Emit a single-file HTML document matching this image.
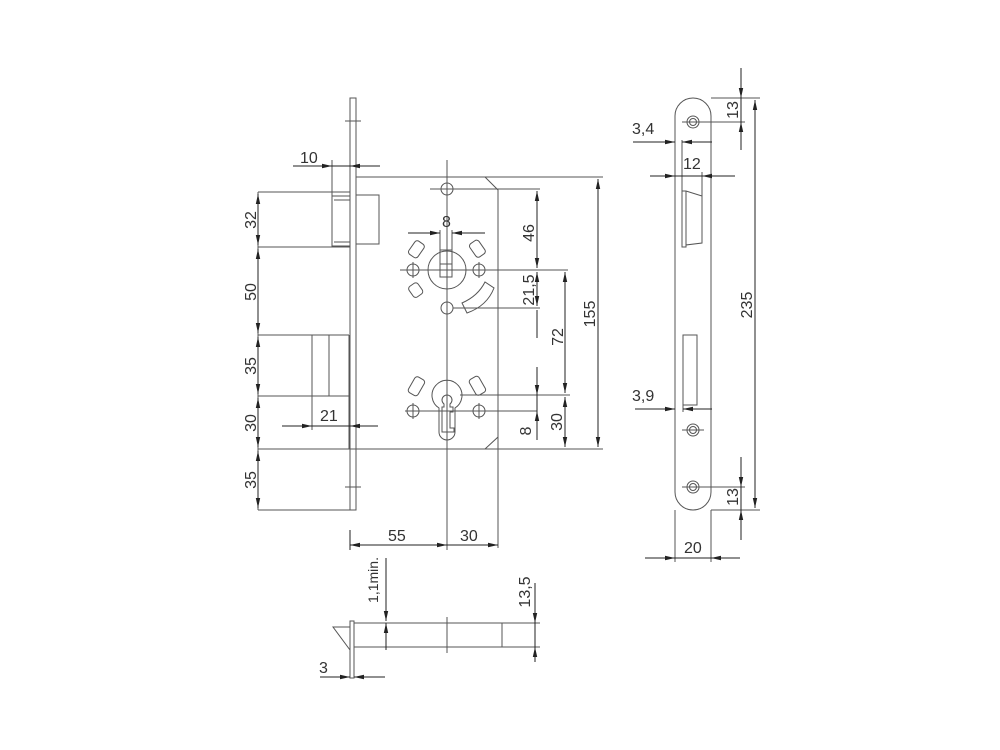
<!DOCTYPE html>
<html><head><meta charset="utf-8"><style>
html,body{margin:0;padding:0;background:#fff;}
svg{display:block;}
text{font-family:"Liberation Sans",sans-serif;font-size:16px;fill:#333;}
</style></head><body>
<svg width="1000" height="750" viewBox="0 0 1000 750" xmlns="http://www.w3.org/2000/svg">
<defs>
<marker id="a" viewBox="0 0 10 6" refX="10" refY="3" markerWidth="10" markerHeight="6" markerUnits="userSpaceOnUse" orient="auto-start-reverse"><path d="M0,0.8 L10,3 L0,5.2 z" fill="#222"/></marker>
</defs>
<g stroke="#555" stroke-width="1" fill="none">
<rect x="350" y="98" width="6" height="412"/>
<line x1="345" y1="121" x2="361" y2="121"/><line x1="345" y1="487" x2="361" y2="487"/>
<path d="M356,177 H485 L498,190 V437 L485,449"/>
<line x1="498" y1="437" x2="498" y2="548"/>
<line x1="356" y1="177" x2="603" y2="177"/>
<line x1="258" y1="449" x2="603" y2="449"/>
<line x1="447" y1="160" x2="447" y2="550"/>
<rect x="332" y="196" width="18" height="50"/>
<line x1="334" y1="200" x2="350" y2="200"/><line x1="334" y1="242" x2="350" y2="242"/>
<rect x="356" y="195" width="23" height="49"/>
<line x1="258" y1="192" x2="350" y2="192"/>
<line x1="258" y1="247" x2="350" y2="247"/>
<line x1="332" y1="160" x2="332" y2="196"/>
<line x1="258" y1="335" x2="349" y2="335"/>
<line x1="349" y1="335" x2="349" y2="449"/>
<line x1="312" y1="335" x2="312" y2="430"/>
<line x1="329" y1="335" x2="329" y2="396"/>
<line x1="258" y1="396" x2="350" y2="396"/>
<line x1="258" y1="510" x2="355" y2="510"/>
<line x1="258" y1="192" x2="258" y2="510"/>
<circle cx="447" cy="270" r="19"/>
<rect x="440" y="250" width="12" height="27"/>
<line x1="440" y1="264" x2="452" y2="264"/>
<line x1="440" y1="230" x2="440" y2="250"/><line x1="452" y1="230" x2="452" y2="250"/>
<circle cx="447" cy="189" r="6"/><circle cx="447" cy="308" r="6"/>
<circle cx="413" cy="270" r="6"/><circle cx="479" cy="270" r="6"/>
<line x1="400" y1="270" x2="568" y2="270"/>
<line x1="430" y1="189" x2="540" y2="189"/>
<line x1="453" y1="308" x2="540" y2="308"/>
<rect x="411" y="241" width="11" height="16" rx="3" transform="rotate(35 416 249)"/>
<rect x="472" y="241" width="11" height="16" rx="3" transform="rotate(-35 477 249)"/>
<rect x="410" y="284" width="11" height="13" rx="3" transform="rotate(-35 415 290)"/>
<path d="M462,303 Q478,296 485,282 L494,288 Q487,306 467,313 Z"/>
<path d="M439,408 A15,15 0 1 1 455,408 V432 A8,8 0 0 1 439,432 Z"/>
<path d="M444,404 A5,5 0 1 1 450,404 V407 H453 V412 H450 V428 H454 V432 H442 V407 H444 Z"/>
<circle cx="413" cy="411" r="6"/><circle cx="479" cy="411" r="6"/>
<line x1="405" y1="411" x2="487" y2="411"/><line x1="413" y1="403" x2="413" y2="419"/><line x1="479" y1="403" x2="479" y2="419"/>
<line x1="413" y1="262" x2="413" y2="278"/><line x1="479" y1="262" x2="479" y2="278"/>
<line x1="447" y1="181" x2="447" y2="197"/><line x1="439" y1="189" x2="455" y2="189"/>
<line x1="487" y1="411" x2="537" y2="411"/>
<line x1="460" y1="395" x2="570" y2="395"/>
<rect x="411" y="377" width="11" height="18" rx="3" transform="rotate(30 416 386)"/>
<rect x="472" y="377" width="11" height="18" rx="3" transform="rotate(-30 477 386)"/>
<path d="M675,116 A18,18 0 0 1 711,116 V492 A18,18 0 0 1 675,492 Z"/>
<circle cx="693" cy="122" r="6"/><circle cx="693" cy="122" r="3.5"/>
<circle cx="693" cy="430" r="6"/><circle cx="693" cy="430" r="3.5"/>
<circle cx="693" cy="487" r="6"/><circle cx="693" cy="487" r="3.5"/>
<line x1="682" y1="122" x2="745" y2="122"/><line x1="682" y1="487" x2="745" y2="487"/>
<line x1="682" y1="430" x2="704" y2="430"/>
<line x1="711" y1="98" x2="760" y2="98"/><line x1="711" y1="510" x2="760" y2="510"/>
<path d="M682,191 H686 L702,196 V243 L686,245 V247 H682 Z"/>
<line x1="686" y1="191" x2="686" y2="245"/>
<line x1="682" y1="140" x2="682" y2="191"/>
<line x1="702" y1="172" x2="702" y2="196"/>
<rect x="683" y="335" width="14" height="70"/>
<line x1="683" y1="405" x2="683" y2="412"/>
<line x1="675" y1="510" x2="675" y2="562"/><line x1="711" y1="510" x2="711" y2="562"/>
<rect x="350" y="621" width="4" height="57"/>
<path d="M350,627 H333 L350,650"/>
<line x1="354" y1="623" x2="540" y2="623"/>
<line x1="354" y1="647" x2="540" y2="647"/>
<line x1="502" y1="623" x2="502" y2="647"/>
<line x1="447" y1="617" x2="447" y2="653"/>
</g>
<g stroke="#222" stroke-width="1" fill="none">
<line x1="258" y1="194" x2="258" y2="245" marker-start="url(#a)" marker-end="url(#a)"/>
<line x1="258" y1="249" x2="258" y2="333" marker-start="url(#a)" marker-end="url(#a)"/>
<line x1="258" y1="337" x2="258" y2="394" marker-start="url(#a)" marker-end="url(#a)"/>
<line x1="258" y1="398" x2="258" y2="447" marker-start="url(#a)" marker-end="url(#a)"/>
<line x1="258" y1="451" x2="258" y2="508" marker-start="url(#a)" marker-end="url(#a)"/>
<line x1="293" y1="166" x2="332" y2="166" marker-end="url(#a)"/>
<line x1="380" y1="166" x2="350" y2="166" marker-end="url(#a)"/>
<line x1="332" y1="166" x2="350" y2="166"/>
<line x1="282" y1="426" x2="312" y2="426" marker-end="url(#a)"/>
<line x1="378" y1="426" x2="350" y2="426" marker-end="url(#a)"/>
<line x1="312" y1="426" x2="350" y2="426"/>
<line x1="350" y1="545" x2="447" y2="545" marker-start="url(#a)" marker-end="url(#a)"/>
<line x1="447" y1="545" x2="498" y2="545" marker-end="url(#a)"/>
<line x1="350" y1="530" x2="350" y2="550"/>
<line x1="408" y1="233" x2="440" y2="233" marker-end="url(#a)"/>
<line x1="485" y1="233" x2="452" y2="233" marker-end="url(#a)"/>
<line x1="537" y1="191" x2="537" y2="268" marker-start="url(#a)" marker-end="url(#a)"/>
<line x1="537" y1="272" x2="537" y2="306" marker-start="url(#a)" marker-end="url(#a)"/>
<line x1="537" y1="310" x2="537" y2="338"/>
<line x1="565" y1="272" x2="565" y2="393" marker-start="url(#a)" marker-end="url(#a)"/>
<line x1="565" y1="397" x2="565" y2="447" marker-start="url(#a)" marker-end="url(#a)"/>
<line x1="537" y1="367" x2="537" y2="395" marker-end="url(#a)"/>
<line x1="537" y1="440" x2="537" y2="411" marker-end="url(#a)"/>
<line x1="537" y1="395" x2="537" y2="411"/>
<line x1="598" y1="179" x2="598" y2="447" marker-start="url(#a)" marker-end="url(#a)"/>
<line x1="741" y1="68" x2="741" y2="98" marker-end="url(#a)"/>
<line x1="741" y1="150" x2="741" y2="122" marker-end="url(#a)"/>
<line x1="741" y1="98" x2="741" y2="122"/>
<line x1="755" y1="100" x2="755" y2="508" marker-start="url(#a)" marker-end="url(#a)"/>
<line x1="741" y1="457" x2="741" y2="487" marker-end="url(#a)"/>
<line x1="741" y1="540" x2="741" y2="510" marker-end="url(#a)"/>
<line x1="741" y1="487" x2="741" y2="510"/>
<line x1="645" y1="558" x2="675" y2="558" marker-end="url(#a)"/>
<line x1="740" y1="558" x2="711" y2="558" marker-end="url(#a)"/>
<line x1="675" y1="558" x2="711" y2="558"/>
<line x1="633" y1="142" x2="675" y2="142" marker-end="url(#a)"/>
<line x1="712" y1="142" x2="682" y2="142" marker-end="url(#a)"/>
<line x1="650" y1="176" x2="675" y2="176" marker-end="url(#a)"/>
<line x1="735" y1="176" x2="702" y2="176" marker-end="url(#a)"/>
<line x1="675" y1="176" x2="702" y2="176"/>
<line x1="635" y1="409" x2="675" y2="409" marker-end="url(#a)"/>
<line x1="712" y1="409" x2="683" y2="409" marker-end="url(#a)"/>
<line x1="386" y1="558" x2="386" y2="621" marker-end="url(#a)"/>
<line x1="386" y1="650" x2="386" y2="623" marker-end="url(#a)"/>
<line x1="535" y1="583" x2="535" y2="623" marker-end="url(#a)"/>
<line x1="535" y1="662" x2="535" y2="647" marker-end="url(#a)"/>
<line x1="535" y1="623" x2="535" y2="647"/>
<line x1="320" y1="677" x2="350" y2="677" marker-end="url(#a)"/>
<line x1="385" y1="677" x2="354" y2="677" marker-end="url(#a)"/>
</g>
<g>
<text x="300" y="163">10</text>
<text x="320" y="421">21</text>
<text x="388" y="541">55</text>
<text x="460" y="541">30</text>
<text x="442" y="227">8</text>
<g transform="translate(531,431) rotate(-90)"><text text-anchor="middle">8</text></g>
<text x="632" y="134">3,4</text>
<text x="683" y="169">12</text>
<text x="632" y="401">3,9</text>
<text x="684" y="553">20</text>
<text x="319" y="673">3</text>
<g transform="translate(256,220) rotate(-90)"><text text-anchor="middle">32</text></g>
<g transform="translate(256,292) rotate(-90)"><text text-anchor="middle">50</text></g>
<g transform="translate(256,366) rotate(-90)"><text text-anchor="middle">35</text></g>
<g transform="translate(256,423) rotate(-90)"><text text-anchor="middle">30</text></g>
<g transform="translate(256,480) rotate(-90)"><text text-anchor="middle">35</text></g>
<g transform="translate(534,233) rotate(-90)"><text text-anchor="middle">46</text></g>
<g transform="translate(534,290) rotate(-90)"><text text-anchor="middle">21,5</text></g>
<g transform="translate(563,337) rotate(-90)"><text text-anchor="middle">72</text></g>
<g transform="translate(562,422) rotate(-90)"><text text-anchor="middle">30</text></g>
<g transform="translate(595,314) rotate(-90)"><text text-anchor="middle">155</text></g>
<g transform="translate(738,110) rotate(-90)"><text text-anchor="middle">13</text></g>
<g transform="translate(752,305) rotate(-90)"><text text-anchor="middle">235</text></g>
<g transform="translate(738,497) rotate(-90)"><text text-anchor="middle">13</text></g>
<g transform="translate(378,580) rotate(-90)"><text text-anchor="middle" style="font-size:14px">1,1min.</text></g>
<g transform="translate(530,592) rotate(-90)"><text text-anchor="middle">13,5</text></g>
</g>
</svg>
</body></html>
